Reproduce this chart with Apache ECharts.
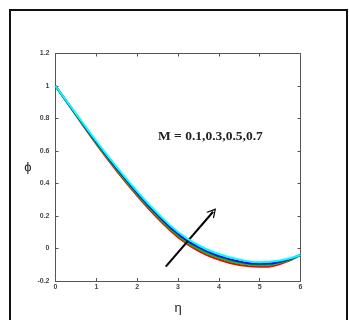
<!DOCTYPE html>
<html><head><meta charset="utf-8">
<script src="https://cdn.jsdelivr.net/npm/echarts@6/dist/echarts.min.js"></script>
<style>html,body{margin:0;padding:0;background:#fff}#c{width:349px;height:320px}</style>
</head><body><div id="c"></div>
<script>
const eta = [0, 0.5, 1, 1.5, 2, 2.5, 3, 3.5, 4, 4.5, 5, 5.5, 6];
const phiM01 = [1, 0.820, 0.643, 0.477, 0.325, 0.187, 0.070, -0.015, -0.068, -0.102, -0.113, -0.096, -0.040];
const phiM03 = [1, 0.823, 0.649, 0.485, 0.334, 0.197, 0.080, -0.004, -0.057, -0.091, -0.103, -0.088, -0.040];
const phiM05 = [1, 0.827, 0.655, 0.493, 0.343, 0.207, 0.091, 0.008, -0.046, -0.080, -0.094, -0.081, -0.040];
const phiM07 = [1, 0.830, 0.661, 0.501, 0.352, 0.217, 0.102, 0.020, -0.034, -0.068, -0.084, -0.074, -0.040];
const seriesNames = ['M = 0.1', 'M = 0.3', 'M = 0.5', 'M = 0.7'];
const seriesColors = ['#ff0000', '#00c800', '#0000ff', '#00ffff'];
const xTicks = [0, 6, 1];
const yTicks = [-0.2, 1.2, 0.2];
const arrowFrom = [2.70, -0.112];
const arrowTo = [3.86, 0.226];
const annotation = 'M = 0.1,0.3,0.5,0.7';

const chart = echarts.init(document.getElementById('c'), null, {renderer: 'canvas'});
const allData = [phiM01, phiM03, phiM05, phiM07];
const axisCol = '#555';
const lblStyle = {fontSize: 7, color: '#444', fontWeight: 'bold', fontFamily: 'Arial, Liberation Sans, sans-serif'};
const series = allData.map((d, i) => ({
  name: seriesNames[i], type: 'line', smooth: true, showSymbol: false,
  data: eta.map((x, j) => [x, d[j]]),
  lineStyle: {color: seriesColors[i], width: 2}, itemStyle: {color: seriesColors[i]},
  z: 2 + i
}));
series.push({
  type: 'line', data: [], silent: true,
  markLine: {
    silent: true, animation: false,
    symbol: ['none', 'path://M0,10 L5,0 L10,10 L8.6,10 L5,2.6 L1.4,10 Z'],
    symbolSize: [10, 9],
    lineStyle: {color: '#000', width: 2, type: 'solid'},
    label: {show: false},
    data: [[{coord: arrowFrom}, {coord: arrowTo}]]
  },
  z: 10
});
const boxAxis = {
  axisLine: {show: true, onZero: false, lineStyle: {color: axisCol, width: 1}},
  axisTick: {show: true, inside: true, length: 3, lineStyle: {color: axisCol}},
  splitLine: {show: false}
};
chart.setOption({
  animation: false,
  backgroundColor: '#fff',
  grid: {left: 55.5, right: 48.5, top: 53.5, bottom: 39},
  xAxis: [Object.assign({
    type: 'value', min: xTicks[0], max: xTicks[1], interval: xTicks[2], position: 'bottom',
    name: 'η', nameLocation: 'middle', nameGap: 21,
    nameTextStyle: {fontSize: 13, color: '#222', fontFamily: 'Arial, Liberation Sans, sans-serif'},
    axisLabel: Object.assign({margin: 3}, lblStyle)
  }, boxAxis), Object.assign({
    type: 'value', position: 'top', min: xTicks[0], max: xTicks[1], interval: xTicks[2],
    axisLabel: {show: false}
  }, boxAxis)],
  yAxis: [Object.assign({
    type: 'value', min: yTicks[0], max: yTicks[1], interval: yTicks[2], position: 'left',
    name: 'ϕ', nameLocation: 'middle', nameGap: 23, nameRotate: 0,
    nameTextStyle: {fontSize: 13, color: '#222', fontFamily: 'Arial, Liberation Sans, sans-serif'},
    axisLabel: Object.assign({margin: 6, formatter: v => String(Math.round(v * 10) / 10)}, lblStyle)
  }, boxAxis), Object.assign({
    type: 'value', position: 'right', min: yTicks[0], max: yTicks[1], interval: yTicks[2],
    axisLabel: {show: false}
  }, boxAxis)],
  graphic: [
    {type: 'rect', shape: {x: 10, y: 10, width: 337, height: 330}, style: {fill: 'none', stroke: '#111', lineWidth: 2}, silent: true},
    {type: 'text', left: 158, top: 130, style: {text: annotation, font: 'bold 13.5px "Liberation Serif", "Times New Roman", serif', fill: '#222'}}
  ],
  series: series
});
</script></body></html>
